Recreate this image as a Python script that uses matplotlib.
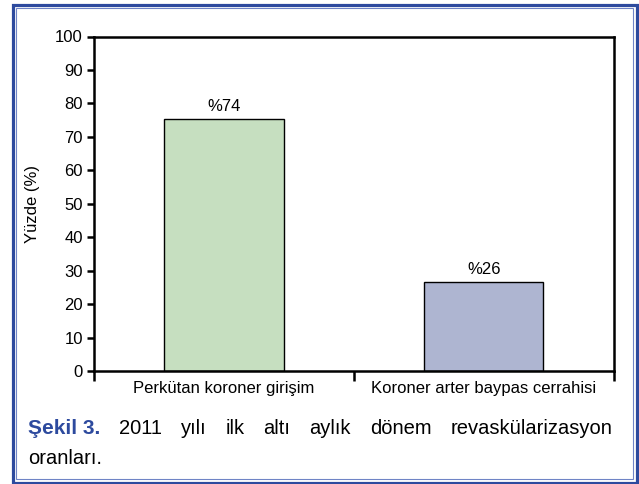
import matplotlib
matplotlib.use("Agg")
import matplotlib.pyplot as plt
from matplotlib.patches import Rectangle

plt.rcParams['font.family'] = ['Liberation Sans', 'DejaVu Sans']

categories = ["Perkütan koroner girişim", "Koroner arter baypas cerrahisi"]
values = [75.2, 26.5]
value_labels = ["%74", "%26"]
colors = ["#c6dfc0", "#aeb5d1"]
yticks = [0, 10, 20, 30, 40, 50, 60, 70, 80, 90, 100]
ylabel = "Yüzde (%)"
caption_bold = ["Şekil 3."]
caption_words = ["2011", "yılı", "ilk", "altı", "aylık", "dönem", "revaskülarizasyon"]
caption_line2 = "oranları."

W, H = 639, 484
fig = plt.figure(figsize=(W / 100, H / 100), dpi=100)
fig.patch.set_facecolor("white")

def fx(px):
    return px / W

def fy(py):
    return 1 - py / H

ax = fig.add_axes([fx(94), fy(371), fx(613.5) - fx(94), fy(36.5) - fy(371)])
x = list(range(len(categories)))
ax.bar(x, values, width=0.46, color=colors, edgecolor="black", linewidth=1.0, zorder=2)
for xi, v, lab in zip(x, values, value_labels):
    ax.annotate(lab, (xi, v), xytext=(0, 4), textcoords="offset points",
                ha="center", va="bottom", fontsize=12)

ax.set_xlim(-0.5, 1.5)
ax.set_ylim(0, 100)
ax.set_yticks(yticks)
ax.set_yticklabels([str(t) for t in yticks], fontsize=12)
ax.set_xticks([-0.5, 0.5, 1.5])
ax.set_xticklabels(["", "", ""])
ax.set_xticks(x, minor=True)
ax.set_xticklabels(categories, minor=True, fontsize=12)
ax.tick_params(axis="x", which="major", direction="out", length=7, width=1.8)
ax.tick_params(axis="x", which="minor", length=0, pad=7)
ax.tick_params(axis="y", direction="out", length=5, width=1.8, pad=3)
for s in ax.spines.values():
    s.set_linewidth(1.8)
ax.set_ylabel(ylabel, fontsize=12)
ax.yaxis.set_label_coords((40 - 94) / 519.5, 0.5)

# frame
fig.patches.append(Rectangle((fx(12.5), fy(482.5)), fx(636.5) - fx(12.5), fy(4.5) - fy(482.5),
                             transform=fig.transFigure, fill=False, edgecolor="#2d4a9e",
                             linewidth=2.3, zorder=10))
fig.patches.append(Rectangle((fx(15.8), fy(479.3)), fx(632.8) - fx(15.8), fy(7.8) - fy(479.3),
                             transform=fig.transFigure, fill=False, edgecolor="#6f84c6",
                             linewidth=0.8, zorder=10))

# caption, justified line 1
left_px, right_px = 28, 612
base1 = fy(434.5)
fs = 14.5
texts = []
for w in caption_bold:
    texts.append(fig.text(0, base1, w, fontsize=fs + 0.5, fontweight="bold", color="#2d4a9e",
                          va="baseline", ha="left"))
for w in caption_words:
    texts.append(fig.text(0, base1, w, fontsize=fs, color="black", va="baseline", ha="left"))
fig.canvas.draw()
r = fig.canvas.get_renderer()
widths = [t.get_window_extent(r).width for t in texts]
gap = (right_px - left_px - sum(widths)) / (len(texts) - 1)
pos = left_px
for t, wd in zip(texts, widths):
    t.set_x(fx(pos))
    pos += wd + gap
fig.text(fx(left_px), fy(463.5), caption_line2, fontsize=fs, color="black", va="baseline", ha="left")

fig.savefig("out.png", dpi=100, facecolor="white")
